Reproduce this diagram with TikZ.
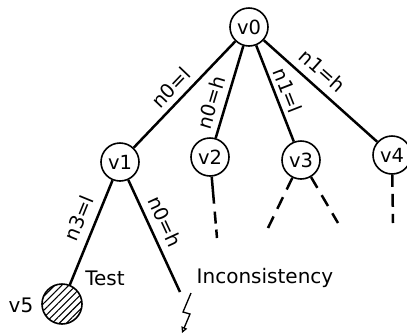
\documentclass[tikz,border=0pt]{standalone}
\usepackage{fontspec}
\setmainfont{DejaVu Sans}
\usetikzlibrary{patterns.meta,arrows.meta}
\begin{document}
\begin{tikzpicture}[x=1pt,y=-1pt,
  vert/.style={circle,draw,line width=1.6pt,minimum size=38pt,inner sep=0pt,font=\fontsize{19.5}{22}\selectfont},
  edge/.style={line width=2.5pt},
  dsh/.style={line width=2.5pt},
  lab/.style={sloped,above,font=\fontsize{19.5}{22}\selectfont},
  txt/.style={anchor=base,inner sep=0pt,font=\fontsize{20}{24}\selectfont}]
\useasboundingbox (0,0) rectangle (407,333);
% vertices
\node[vert] (v0) at (249,27) {v0};
\node[vert] (v1) at (120,162) {v1};
\node[vert] (v2) at (210,157) {v2};
\node[vert] (v3) at (301,160) {v3};
\node[vert] (v4) at (392,155) {v4};
\node[circle,draw,line width=1.6pt,minimum size=40pt,inner sep=0pt,
      pattern={Lines[angle=45,distance=5pt,line width=1.1pt]}] (v5) at (62,304) {};
% free ends
\coordinate (inc) at (180,292);
\coordinate (d2) at (217,238);
\coordinate (d3a) at (268,228);
\coordinate (d3b) at (338,223);
\coordinate (d4) at (393,223);
\coordinate (b1) at (191,293);
\coordinate (b2) at (183,312);
\coordinate (b3) at (190,314);
\coordinate (b4) at (182,333);
% edges with labels
\draw[edge] (v0) -- node[lab,pos=0.53,inner sep=5.8pt] {n0=l} (v1);
\draw[edge] (v0) -- node[lab,pos=0.66,inner sep=6pt] {n0=h} (v2);
\draw[edge] (v0) -- node[lab,pos=0.52,inner sep=4.5pt] {n1=l} (v3);
\draw[edge] (v0) -- node[lab,pos=0.42,inner sep=8.2pt] {n1=h} (v4);
\draw[edge] (v1) -- node[lab,pos=0.42,inner sep=8.3pt] {n3=l} (v5);
\draw[edge] (v1) -- node[lab,pos=0.43,inner sep=7.6pt] {n0=h} (inc);
% dashed continuations
\draw[dsh,dash pattern=on 27pt off 8pt on 12pt off 6pt on 10pt] (v2) -- (d2);
\draw[dsh,dash pattern=on 13pt off 8.5pt on 13pt off 8.5pt on 13pt] (v3) -- (d3a);
\draw[dsh,dash pattern=on 12.5pt off 8.5pt on 12.5pt off 8.5pt on 12pt] (v3) -- (d3b);
\draw[dsh,dash pattern=on 12pt off 7pt on 13pt off 7pt on 10pt] (v4) -- (d4);
% lightning
\draw[line width=1.3pt,-{Triangle[open,length=6pt,width=6pt]}] (b1) -- (b2) -- (b3) -- (b4);
% texts
\node[txt] (test) at (105,285) {Test};
\node[txt] (v5l) at (21,312) {v5};
\node[txt] (incl) at (265,283) {Inconsistency};
\end{tikzpicture}
\end{document}
